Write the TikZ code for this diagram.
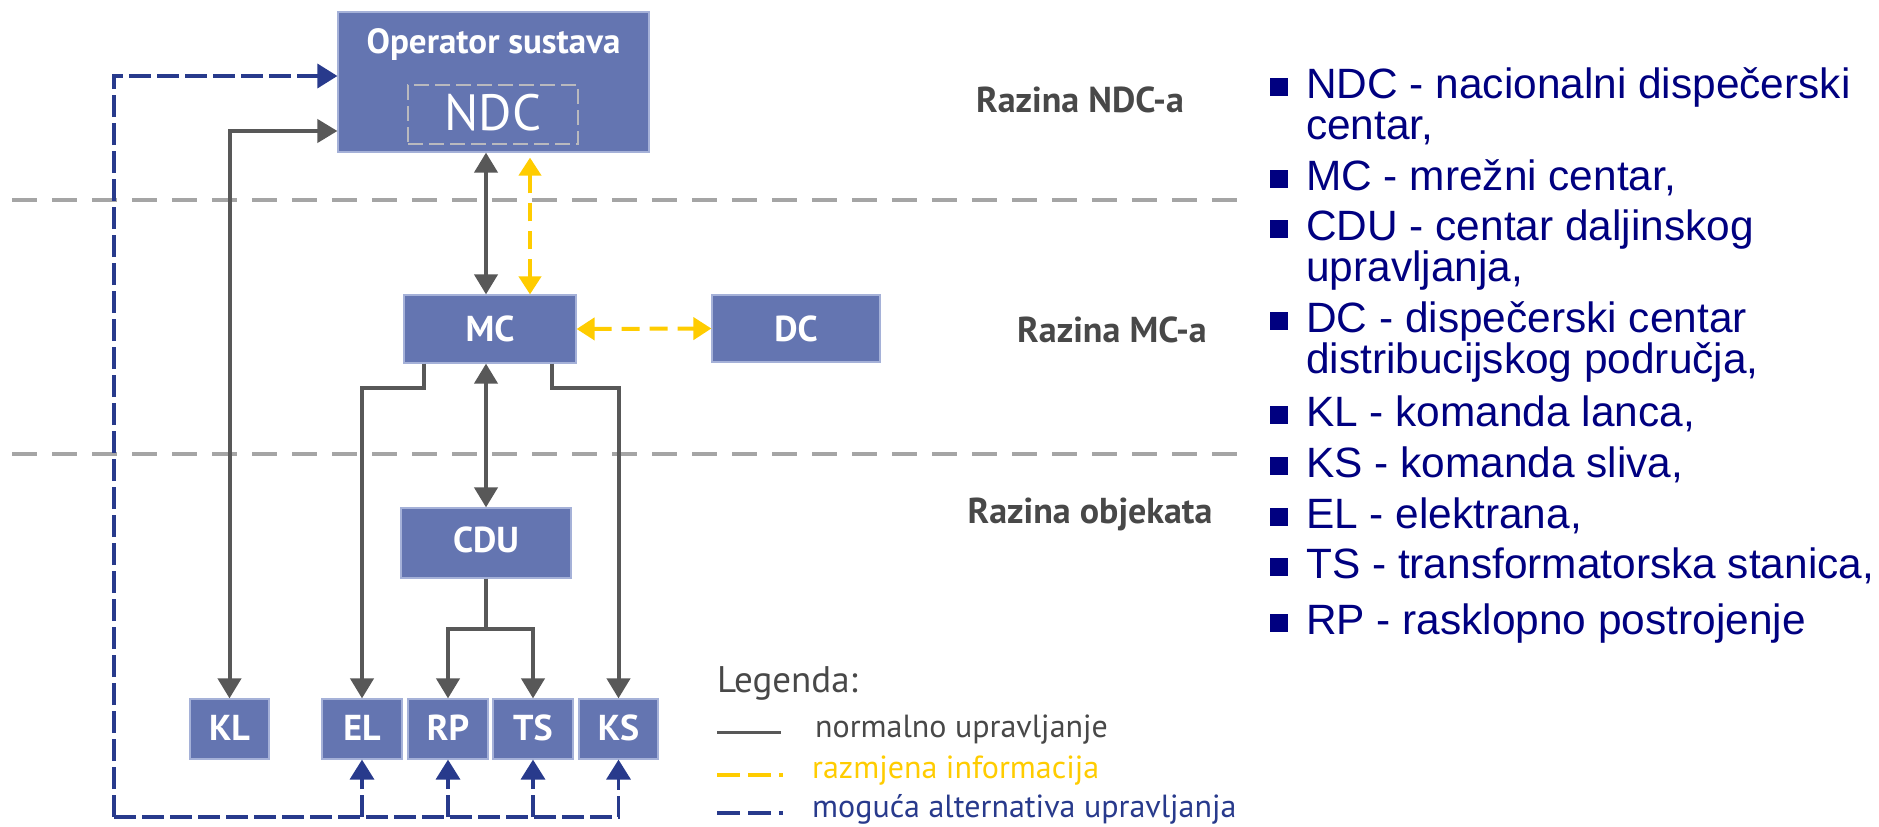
\documentclass[tikz,border=0pt]{standalone}
\usepackage{fontspec}
\setmainfont{PT Sans}
\newfontfamily\listfont{Liberation Sans}
\usetikzlibrary{arrows.meta}
\definecolor{boxblue}{RGB}{100,117,177}
\definecolor{boxedge}{RGB}{165,177,216}
\definecolor{ctrlgray}{RGB}{88,88,88}
\definecolor{infoyellow}{RGB}{255,204,0}
\definecolor{altblue}{RGB}{40,58,140}
\definecolor{levelgray}{RGB}{165,165,165}
\definecolor{ndcgray}{RGB}{185,185,190}
\definecolor{navytext}{RGB}{0,0,128}
\definecolor{labelgray}{RGB}{72,72,72}
\tikzset{
  box/.style={rectangle, fill=boxblue, draw=boxedge, line width=1.2pt, text=white,
    inner sep=0pt, font=\bfseries\fontsize{36}{40}\selectfont},
  ndcbox/.style={rectangle, draw=ndcgray, line width=2.5pt, dash pattern=on 15pt off 6pt,
    text=white, inner sep=0pt, font=\fontsize{51}{55}\selectfont},
  ctrl/.style={draw=ctrlgray, line width=4pt, >={Triangle[width=23pt,length=20pt]}},
  info/.style={draw=infoyellow, line width=4pt, dash pattern=on 18pt off 10pt,
    >={Triangle[width=22pt,length=18pt]}},
  alt/.style={draw=altblue, line width=3.5pt, dash pattern=on 22pt off 6pt,
    >={Triangle[width=24pt,length=20pt]}},
  levelline/.style={draw=levelgray, line width=4pt, dash pattern=on 25pt off 15pt},
  levellabel/.style={anchor=base, text=labelgray, font=\bfseries\fontsize{36}{40}\selectfont},
  legtext/.style={anchor=base west, font=\fontsize{32}{35}\selectfont},
  listtext/.style={anchor=base west, text=navytext, inner sep=0pt, font=\listfont\fontsize{42.4}{48}\selectfont},
  bullet/.style={rectangle, fill=navytext, minimum size=18pt, inner sep=0pt},
}
\begin{document}
\begin{tikzpicture}[x=1pt, y=-1pt]
\useasboundingbox (0,0) rectangle (1879,827);

% level separators
\draw[levelline] (12,200) -- (1237,200);
\draw[levelline] (12,454) -- (1237,454);

% boxes
\node[box, minimum width=311pt, text height=41pt, text depth=99pt,
      font=\bfseries\fontsize{35}{38}\selectfont] (OP) at (493.5,82) {Operator sustava};
\node[ndcbox, minimum width=170pt, text height=45pt, text depth=14pt] (NDC) at (493,114.5) {NDC};
\node[box, minimum width=172pt, text height=46pt, text depth=22pt] (MC) at (490,329) {MC};
\node[box, minimum width=168pt, text height=46pt, text depth=21pt] (DC) at (796,328.5) {DC};
\node[box, minimum width=170pt, text height=44pt, text depth=26pt] (CDU) at (486,543) {CDU};
\node[box, minimum width=79pt, text height=41pt, text depth=19pt] (KL) at (229.5,729) {KL};
\node[box, minimum width=80pt, text height=41pt, text depth=19pt] (EL) at (362,729) {EL};
\node[box, minimum width=80pt, text height=41pt, text depth=19pt] (RP) at (448,729) {RP};
\node[box, minimum width=80pt, text height=41pt, text depth=19pt] (TS) at (533,729) {TS};
\node[box, minimum width=79pt, text height=41pt, text depth=19pt] (KS) at (618.5,729) {KS};

% normal control
\draw[ctrl, <->] ([xshift=-4pt]MC.north) -- ([xshift=-4pt]MC.north |- OP.south);
\draw[ctrl, <->] ([yshift=-49pt]OP.west) -| (KL.north);
\draw[ctrl, ->] ([xshift=-66pt]MC.south) -- ++(0,24) -| (EL.north);
\draw[ctrl, ->] ([xshift=62pt]MC.south) -- ++(0,24) -| (KS.north);
\draw[ctrl, <->] (CDU.north) -- (CDU.north |- MC.south);
\draw[ctrl, ->] (CDU.south) -- ++(0,50) -| (RP.north);
\draw[ctrl, ->] (CDU.south) -- ++(0,50) -| (TS.north);

% information exchange
\draw[info, <->] ([xshift=40pt]MC.north) -- ([xshift=40pt,yshift=-5pt]MC.north |- OP.south);
\draw[info, <->] (MC.east) -- (DC.west);

% alternative control
\coordinate (bl) at (114,817);
\draw[alt, ->] (bl) |- ([yshift=6pt]OP.west);
\draw[alt, ->] (bl) -| (KS.south);
\draw[alt, ->] (EL.south |- bl) -- (EL.south);
\draw[alt, ->] (RP.south |- bl) -- (RP.south);
\draw[alt, ->] (TS.south |- bl) -- (TS.south);

% level labels
\node[levellabel] (lvl1) at (1080,112) {Razina NDC-a};
\node[levellabel] (lvl2) at (1112,342) {Razina MC-a};
\node[levellabel] (lvl3) at (1090,523) {Razina objekata};

% legend
\node[anchor=base west, inner sep=0pt, text=labelgray, font=\fontsize{37}{40}\selectfont] (leg) at (717,692) {Legenda:};
\coordinate (s1a) at (717,732); \coordinate (s1b) at (781,732);
\coordinate (s2a) at (717,775); \coordinate (s2b) at (783,775);
\coordinate (s3a) at (717,813); \coordinate (s3b) at (783,813);
\draw[draw=ctrlgray, line width=3pt] (s1a) -- (s1b);
\draw[draw=infoyellow, line width=4pt, dash pattern=on 23pt off 8pt] (s2a) -- (s2b);
\draw[draw=altblue, line width=4pt, dash pattern=on 23pt off 8pt] (s3a) -- (s3b);
\node[legtext, inner sep=0pt, text=labelgray] (leg1) at (815,737) {normalno upravljanje};
\node[legtext, inner sep=0pt, text=infoyellow] (leg2) at (812,778) {razmjena informacija};
\node[legtext, inner sep=0pt, text=altblue] (leg3) at (812,817) {moguća alternativa upravljanja};

% abbreviation list
\foreach \b/\nm in {98/b1,190/b2,240/b3,332/b4,426/b5,477/b6,528/b7,578/b8,634/b9}{
  \node[bullet] (\nm) at (1279,\b-11) {};
}
\node[listtext] (t1) at (1306,98) {NDC - nacionalni dispečerski};
\node[listtext] (t2) at (1306,139) {centar,};
\node[listtext] (t3) at (1306,190) {MC - mrežni centar,};
\node[listtext] (t4) at (1306,240) {CDU - centar daljinskog};
\node[listtext] (t5) at (1306,281) {upravljanja,};
\node[listtext] (t6) at (1306,332) {DC - dispečerski centar};
\node[listtext] (t7) at (1306,373) {distribucijskog područja,};
\node[listtext] (t8) at (1306,426) {KL - komanda lanca,};
\node[listtext] (t9) at (1306,477) {KS - komanda sliva,};
\node[listtext] (t10) at (1306,528) {EL - elektrana,};
\node[listtext] (t11) at (1306,578) {TS - transformatorska stanica,};
\node[listtext] (t12) at (1306,634) {RP - rasklopno postrojenje};
\end{tikzpicture}
\end{document}
